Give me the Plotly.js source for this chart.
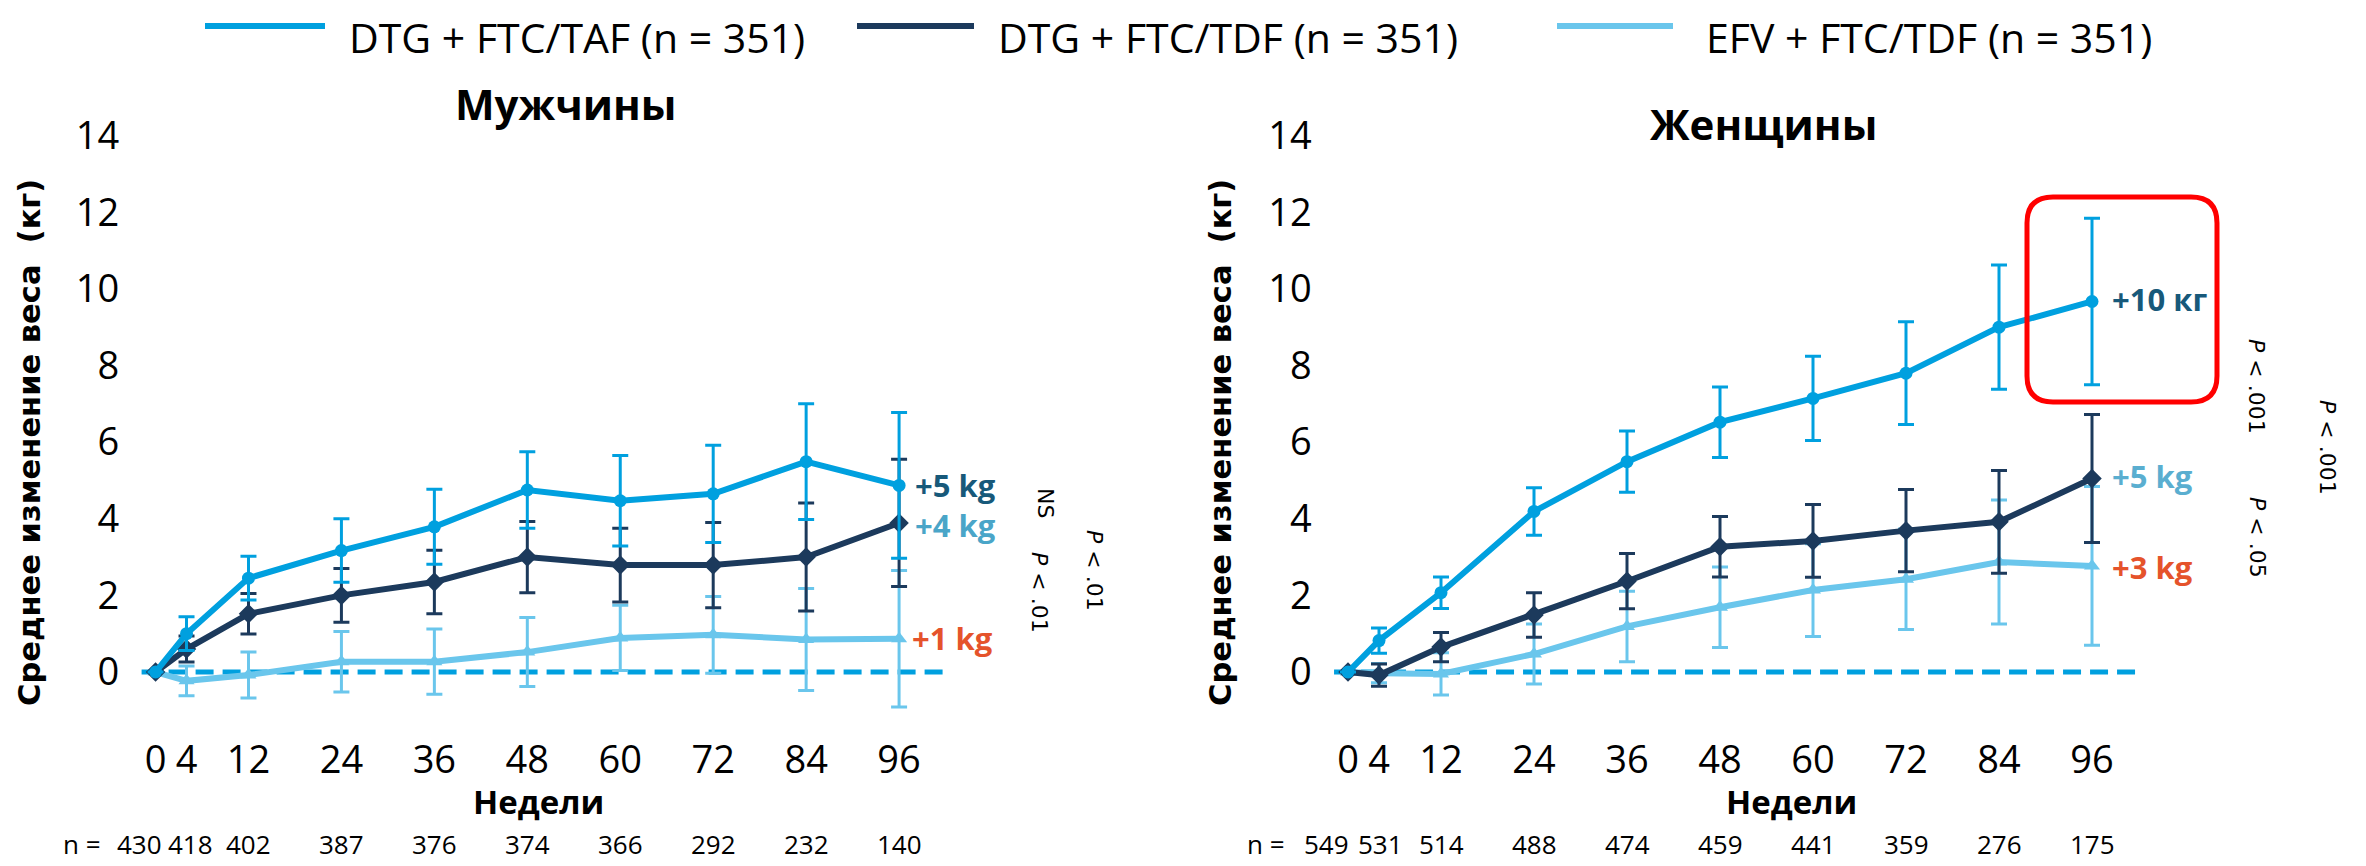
<!DOCTYPE html>
<html>
<head>
<meta charset="utf-8">
<script src="https://cdn.plot.ly/plotly-3.0.1.min.js"></script>
<style>html,body{margin:0;padding:0;background:#fff;}#chart{width:2366px;height:866px;}</style>
</head>
<body>
<div id="chart"></div>
<script>
// ---------- DATA ----------
const weeks = [0, 4, 12, 24, 36, 48, 60, 72, 84, 96];
const weekLabels = ['0', '4', '12', '24', '36', '48', '60', '72', '84', '96'];
const yTicks = [0, 2, 4, 6, 8, 10, 12, 14];
const seriesNames = ['DTG + FTC/TAF (n = 351)', 'DTG + FTC/TDF (n = 351)', 'EFV + FTC/TDF (n = 351)'];
const panelTitles = ['Мужчины', 'Женщины'];
const yTitle = 'Среднее изменение веса\u00a0 (кг)';
const xTitle = 'Недели';

// Men
const menTAF    = [0, 1.00, 2.45, 3.17, 3.79, 4.75, 4.47, 4.65, 5.49, 4.87];
const menTAFerr = [null, 0.44, 0.57, 0.83, 0.98, 1.00, 1.18, 1.27, 1.51, 1.90];
const menTDF    = [0, 0.60, 1.52, 2.00, 2.35, 3.00, 2.79, 2.79, 3.00, 3.89];
const menTDFerr = [null, 0.34, 0.53, 0.70, 0.83, 0.93, 0.96, 1.11, 1.41, 1.66];
const menEFV    = [0, -0.23, -0.08, 0.27, 0.27, 0.52, 0.89, 0.97, 0.85, 0.87];
const menEFVerr = [null, 0.39, 0.60, 0.79, 0.85, 0.90, 0.85, 1.00, 1.33, 1.78];
const menN      = [430, 418, 402, 387, 376, 374, 366, 292, 232, 140];

// Women
const womenTAF    = [0, 0.82, 2.07, 4.19, 5.49, 6.52, 7.14, 7.80, 9.00, 9.67];
const womenTAFerr = [null, 0.33, 0.41, 0.62, 0.80, 0.92, 1.10, 1.34, 1.62, 2.17];
const womenTDF    = [0, -0.08, 0.65, 1.49, 2.37, 3.27, 3.42, 3.69, 3.92, 5.05];
const womenTDFerr = [null, 0.29, 0.38, 0.58, 0.72, 0.79, 0.95, 1.07, 1.34, 1.67];
const womenEFV    = [0, -0.03, -0.05, 0.47, 1.19, 1.69, 2.14, 2.42, 2.87, 2.77];
const womenEFVerr = [null, 0.25, 0.55, 0.78, 0.92, 1.05, 1.21, 1.31, 1.62, 2.07];
const womenN      = [549, 531, 514, 488, 474, 459, 441, 359, 276, 175];

// End labels and p-values
const menEndLabels   = ['+5 kg', '+4 kg', '+1 kg'];
const womenEndLabels = ['+10 кг', '+5 kg', '+3 kg'];
const menPvals   = ['NS', '<i>P</i> < .01', '<i>P</i> < .01'];
const womenPvals = ['<i>P</i> < .001', '<i>P</i> < .05', '<i>P</i> < .001'];

// ---------- STYLE ----------
const W = 2366, H = 866;
const colTAF = '#00a0df', colTDF = '#1c3a5c', colEFV = '#6ac6ec';
const FONT = 'Open Sans, Noto Sans, sans-serif';
const px = x => x / W;
const py = y => 1 - y / H;

function trace(y, err, color, symbol, xa, ya, msize) {
  return {
    x: weeks, y: y, xaxis: xa, yaxis: ya, type: 'scatter', mode: 'lines+markers',
    line: {color: color, width: 6},
    marker: {symbol: symbol, size: msize, color: color},
    error_y: {type: 'data', array: err, symmetric: true, visible: true, color: color, thickness: 3, width: 8},
    showlegend: false, hoverinfo: 'x+y'
  };
}

const data = [
  trace(menEFV, menEFVerr, colEFV, 'triangle-up', 'x', 'y', 14),
  trace(menTDF, menTDFerr, colTDF, 'diamond', 'x', 'y', 15),
  trace(menTAF, menTAFerr, colTAF, 'circle', 'x', 'y', 13),
  trace(womenEFV, womenEFVerr, colEFV, 'triangle-up', 'x2', 'y2', 14),
  trace(womenTDF, womenTDFerr, colTDF, 'diamond', 'x2', 'y2', 15),
  trace(womenTAF, womenTAFerr, colTAF, 'circle', 'x2', 'y2', 13)
];

const yDomain = [py(729.5), py(116.4)];
function xAxis(domain, anchor) {
  return {
    domain: domain, anchor: anchor, range: [-3, 103],
    tickmode: 'array', tickvals: weeks, ticktext: weekLabels,
    showgrid: false, zeroline: false, showline: false, ticks: '',
    tickfont: {family: FONT, size: 38, color: '#000'},
    ticklabelstandoff: 4, fixedrange: true
  };
}
function yAxis(domain, anchor) {
  return {
    domain: domain, anchor: anchor, range: [-1.5, 14.5],
    tickmode: 'array', tickvals: yTicks, ticktext: yTicks.map(String),
    showgrid: false, zeroline: false, showline: false, ticks: '',
    tickfont: {family: FONT, size: 38, color: '#000'},
    ticklabelstandoff: 12, fixedrange: true
  };
}

const shapes = [];
// dashed zero reference lines
[['x', 'y'], ['x2', 'y2']].forEach(([xa, ya]) => {
  shapes.push({type: 'line', xref: xa, yref: ya, x0: -1.8, x1: 101.8, y0: 0, y1: 0,
    line: {color: '#00a0df', width: 5, dash: '18px,9px'}, layer: 'below'});
});
// legend line samples
const legendLines = [[205, 325], [857, 974], [1557, 1673]];
const legendCols = [colTAF, colTDF, colEFV];
legendLines.forEach((l, i) => {
  shapes.push({type: 'line', xref: 'paper', yref: 'paper', x0: px(l[0]), x1: px(l[1]), y0: py(26), y1: py(26),
    line: {color: legendCols[i], width: 6}});
});
// red rounded box
(function () {
  const x0 = 2027, x1 = 2217, y0 = 197, y1 = 402, r = 26;
  const p = (x, y) => px(x).toFixed(5) + ',' + py(y).toFixed(5);
  const path = 'M' + p(x0 + r, y0) + ' L' + p(x1 - r, y0) + ' Q' + p(x1, y0) + ' ' + p(x1, y0 + r) +
    ' L' + p(x1, y1 - r) + ' Q' + p(x1, y1) + ' ' + p(x1 - r, y1) +
    ' L' + p(x0 + r, y1) + ' Q' + p(x0, y1) + ' ' + p(x0, y1 - r) +
    ' L' + p(x0, y0 + r) + ' Q' + p(x0, y0) + ' ' + p(x0 + r, y0) + ' Z';
  shapes.push({type: 'path', xref: 'paper', yref: 'paper', path: path, line: {color: '#ff0000', width: 5}});
})();

const ann = [];
function A(o) { ann.push(Object.assign({showarrow: false, xanchor: 'center', yanchor: 'middle'}, o)); }

// legend texts
const legendTextX = [347, 996, 1704];
seriesNames.forEach((t, i) => A({text: t, xref: 'paper', yref: 'paper', x: px(legendTextX[i]), y: py(37),
  xanchor: 'left', font: {family: FONT, size: 41, color: '#000'}}));
// panel titles
A({text: '<b>' + panelTitles[0] + '</b>', xref: 'paper', yref: 'paper', x: px(565), y: py(104), font: {family: FONT, size: 42, color: '#000'}});
A({text: '<b>' + panelTitles[1] + '</b>', xref: 'paper', yref: 'paper', x: px(1763), y: py(124), font: {family: FONT, size: 42, color: '#000'}});
// y titles
[30, 1221].forEach(x => A({text: '<b>' + yTitle + '</b>', xref: 'paper', yref: 'paper', x: px(x), y: py(443), textangle: -90,
  font: {family: 'DejaVu Sans, Verdana, sans-serif', size: 30.5, color: '#000'}}));
// x titles
A({text: '<b>' + xTitle + '</b>', xref: 'paper', yref: 'paper', x: px(538), y: py(801), font: {family: FONT, size: 33, color: '#000'}});
A({text: '<b>' + xTitle + '</b>', xref: 'paper', yref: 'paper', x: px(1791), y: py(801), font: {family: FONT, size: 33, color: '#000'}});
// n rows
const nFont = {family: FONT, size: 26, color: '#000'};
const nY = 0.002;
A({text: 'n =', xref: 'paper', yref: 'paper', x: px(82), y: nY, yanchor: 'bottom', font: nFont});
A({text: 'n =', xref: 'paper', yref: 'paper', x: px(1266), y: nY, yanchor: 'bottom', font: nFont});
const menShift = [-16, 4, 0, 0, 0, 0, 0, 0, 0, 0];
const womenShift = [-22, 1, 0, 0, 0, 0, 0, 0, 0, 0];
weeks.forEach((w, i) => {
  A({text: String(menN[i]), xref: 'x', yref: 'paper', x: w, xshift: menShift[i], y: nY, yanchor: 'bottom', font: nFont});
  A({text: String(womenN[i]), xref: 'x2', yref: 'paper', x: w, xshift: womenShift[i], y: nY, yanchor: 'bottom', font: nFont});
});
// end labels
const endFont = (c) => ({family: FONT, size: 31, color: c});
A({text: '<b>' + menEndLabels[0] + '</b>', xref: 'paper', yref: 'paper', x: px(913), y: py(485), xanchor: 'left', font: endFont('#17597a')});
A({text: '<b>' + menEndLabels[1] + '</b>', xref: 'paper', yref: 'paper', x: px(913), y: py(525), xanchor: 'left', font: endFont('#4aa5c8')});
A({text: '<b>' + menEndLabels[2] + '</b>', xref: 'paper', yref: 'paper', x: px(910), y: py(638), xanchor: 'left', font: endFont('#e5532b')});
A({text: '<b>' + womenEndLabels[0] + '</b>', xref: 'paper', yref: 'paper', x: px(2110), y: py(299), xanchor: 'left', font: endFont('#17597a')});
A({text: '<b>' + womenEndLabels[1] + '</b>', xref: 'paper', yref: 'paper', x: px(2110), y: py(476), xanchor: 'left', font: endFont('#5aaed0')});
A({text: '<b>' + womenEndLabels[2] + '</b>', xref: 'paper', yref: 'paper', x: px(2110), y: py(567), xanchor: 'left', font: endFont('#e5532b')});
// p-values (rotated clockwise)
const pFont = {family: 'DejaVu Sans, Verdana, sans-serif', size: 22, color: '#000'};
const menPpos = [[1046, 503], [1040, 592], [1095, 570]];
const womenPpos = [[2257, 386], [2258, 537], [2328, 447]];
menPvals.forEach((t, i) => A({text: t, xref: 'paper', yref: 'paper', x: px(menPpos[i][0]), y: py(menPpos[i][1]), textangle: 90, font: pFont}));
womenPvals.forEach((t, i) => A({text: t, xref: 'paper', yref: 'paper', x: px(womenPpos[i][0]), y: py(womenPpos[i][1]), textangle: 90, font: pFont}));

const layout = {
  width: W, height: H, margin: {l: 0, r: 0, t: 0, b: 0},
  paper_bgcolor: '#fff', plot_bgcolor: 'rgba(0,0,0,0)',
  showlegend: false,
  xaxis: xAxis([px(132.3), px(953.3)], 'y'),
  yaxis: yAxis(yDomain, 'x'),
  xaxis2: xAxis([px(1324.75), px(2146.25)], 'y2'),
  yaxis2: yAxis(yDomain, 'x2'),
  shapes: shapes, annotations: ann,
  font: {family: FONT}
};

Plotly.newPlot('chart', data, layout, {staticPlot: true, displayModeBar: false});
</script>
</body>
</html>
